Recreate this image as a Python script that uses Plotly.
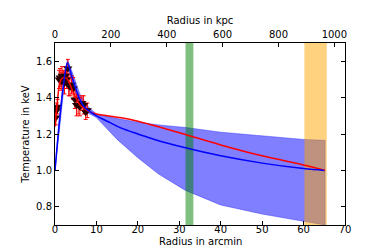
import plotly.graph_objects as go

# ---- data ----
kpc_per_arcmin = 14.83

data_r = [0.2, 0.4, 0.6, 1.0, 1.2, 1.5, 1.7, 2.0, 2.3, 2.5, 2.8, 3.1, 3.3, 3.6, 4.0, 4.4, 4.8, 5.2, 5.6, 6.0, 6.5, 6.9, 7.4, 7.8]
data_t = [1.29, 1.33, 1.35, 1.50, 1.51, 1.49, 1.52, 1.50, 1.48, 1.52, 1.50, 1.56, 1.47, 1.46, 1.47, 1.45, 1.39, 1.36, 1.36, 1.35, 1.37, 1.36, 1.32, 1.33]
data_terr = [0.04, 0.04, 0.04, 0.05, 0.05, 0.05, 0.05, 0.05, 0.06, 0.05, 0.05, 0.05, 0.06, 0.05, 0.05, 0.06, 0.05, 0.06, 0.05, 0.05, 0.04, 0.05, 0.04, 0.04]
data_rerr = [0.2, 0.2, 0.2, 0.25, 0.25, 0.25, 0.25, 0.25, 0.25, 0.25, 0.25, 0.25, 0.25, 0.25, 0.25, 0.25, 0.3, 0.3, 0.3, 0.3, 0.3, 0.3, 0.3, 0.3]

model_r = [0, 1, 2, 3, 4, 5, 6, 7, 8, 10, 13, 16, 20, 24, 31.5, 40, 50, 60, 65]
model_t = [1.0, 1.25, 1.46, 1.59, 1.52, 1.45, 1.39, 1.35, 1.33, 1.30, 1.266, 1.232, 1.20, 1.17, 1.124, 1.08, 1.04, 1.01, 1.0]

band_r = [0, 1, 2, 3, 4, 6, 8, 10, 15, 20, 25, 31.5, 40, 50, 60, 65.2]
band_hi = [1.0, 1.28, 1.49, 1.61, 1.55, 1.42, 1.35, 1.31, 1.285, 1.265, 1.25, 1.236, 1.21, 1.19, 1.17, 1.165]
band_lo = [1.0, 1.22, 1.42, 1.57, 1.49, 1.36, 1.315, 1.29, 1.17, 1.07, 0.98, 0.89, 0.81, 0.76, 0.72, 0.70]

fit_r = [0, 0.5, 1, 1.5, 2, 2.5, 3, 3.5, 4, 5, 6, 7, 8, 10, 16, 20, 25, 31.5, 40, 50, 60, 65.2]
fit_t = [1.24, 1.36, 1.46, 1.50, 1.51, 1.51, 1.50, 1.48, 1.45, 1.40, 1.36, 1.34, 1.326, 1.31, 1.289, 1.27, 1.24, 1.197, 1.14, 1.08, 1.03, 1.0]

green_band = [31.5, 33.4]
orange_band = [60.2, 65.6]
y_range = [0.7, 1.7]

fig = go.Figure()

# uncertainty band
fig.add_trace(go.Scatter(x=band_r, y=band_hi, mode="lines",
                         line=dict(color="rgba(0,0,255,0.6)", width=0.6),
                         showlegend=False, hoverinfo="skip"))
fig.add_trace(go.Scatter(x=band_r, y=band_lo, mode="lines", fill="tonexty",
                         fillcolor="rgba(0,0,255,0.5)",
                         line=dict(color="rgba(0,0,255,0.6)", width=0.6),
                         showlegend=False, hoverinfo="skip"))
fig.add_trace(go.Scatter(x=[band_r[-1], band_r[-1]], y=[band_lo[-1], band_hi[-1]], mode="lines",
                         line=dict(color="rgba(0,0,255,0.6)", width=0.6),
                         showlegend=False, hoverinfo="skip"))

# vertical bands
for (a, b), col in [(green_band, "rgba(0,128,0,0.5)"), (orange_band, "rgba(255,165,0,0.5)")]:
    fig.add_trace(go.Scatter(x=[a, b, b, a, a], y=[y_range[0], y_range[0], y_range[1], y_range[1], y_range[0]],
                             mode="lines", fill="toself", fillcolor=col,
                             line=dict(width=0), showlegend=False, hoverinfo="skip"))

# data points
fig.add_trace(go.Scatter(x=data_r, y=data_t, mode="markers",
                         marker=dict(symbol="triangle-down", size=8, color="#2a0000",
                                     line=dict(color="#2a0000", width=0)),
                         error_y=dict(type="data", array=data_terr, color="red", thickness=1, width=2),
                         error_x=dict(type="data", array=data_rerr, color="red", thickness=1, width=2),
                         showlegend=False))

# red fit line
fig.add_trace(go.Scatter(x=fit_r, y=fit_t, mode="lines", line=dict(color="red", width=1.5),
                         line_shape="spline", showlegend=False))
# blue model line
fig.add_trace(go.Scatter(x=model_r, y=model_t, mode="lines", line=dict(color="blue", width=1.5),
                         line_shape="spline", showlegend=False))

# dummy trace for top axis
fig.add_trace(go.Scatter(x=[0], y=[1.0], xaxis="x2", mode="markers",
                         marker=dict(opacity=0), showlegend=False, hoverinfo="skip"))

font = dict(family="DejaVu Sans", size=10, color="black")
axis_common = dict(showgrid=False, zeroline=False, showline=True, linecolor="black", linewidth=1,
                   ticks="inside", ticklen=4, tickcolor="black", tickfont=font)

fig.update_layout(
    width=374, height=249,
    margin=dict(l=47, r=37, t=24, b=32),
    paper_bgcolor="white", plot_bgcolor="white",
    font=font,
    xaxis=dict(range=[0, 70], tickvals=[0, 10, 20, 30, 40, 50, 60, 70], ticklabelstandoff=-5,
               **axis_common),
    xaxis2=dict(range=[0, 70 * kpc_per_arcmin], overlaying="x", side="top",
                tickvals=[0, 200, 400, 600, 800, 1000],
                title=dict(text="Radius in kpc", font=font, standoff=2), **axis_common),
    yaxis=dict(range=y_range, tickvals=[0.8, 1.0, 1.2, 1.4, 1.6], ticktext=["0.8", "1.0", "1.2", "1.4", "1.6"],
               mirror="ticks",
               title=dict(text="Temperature in keV", font=font, standoff=4), **axis_common),
    annotations=[dict(text="Radius in arcmin", xref="paper", yref="paper", x=0.5, y=0,
                      xanchor="center", yanchor="top", yshift=-9, showarrow=False, font=font)],
)

fig.write_html("out.html")
